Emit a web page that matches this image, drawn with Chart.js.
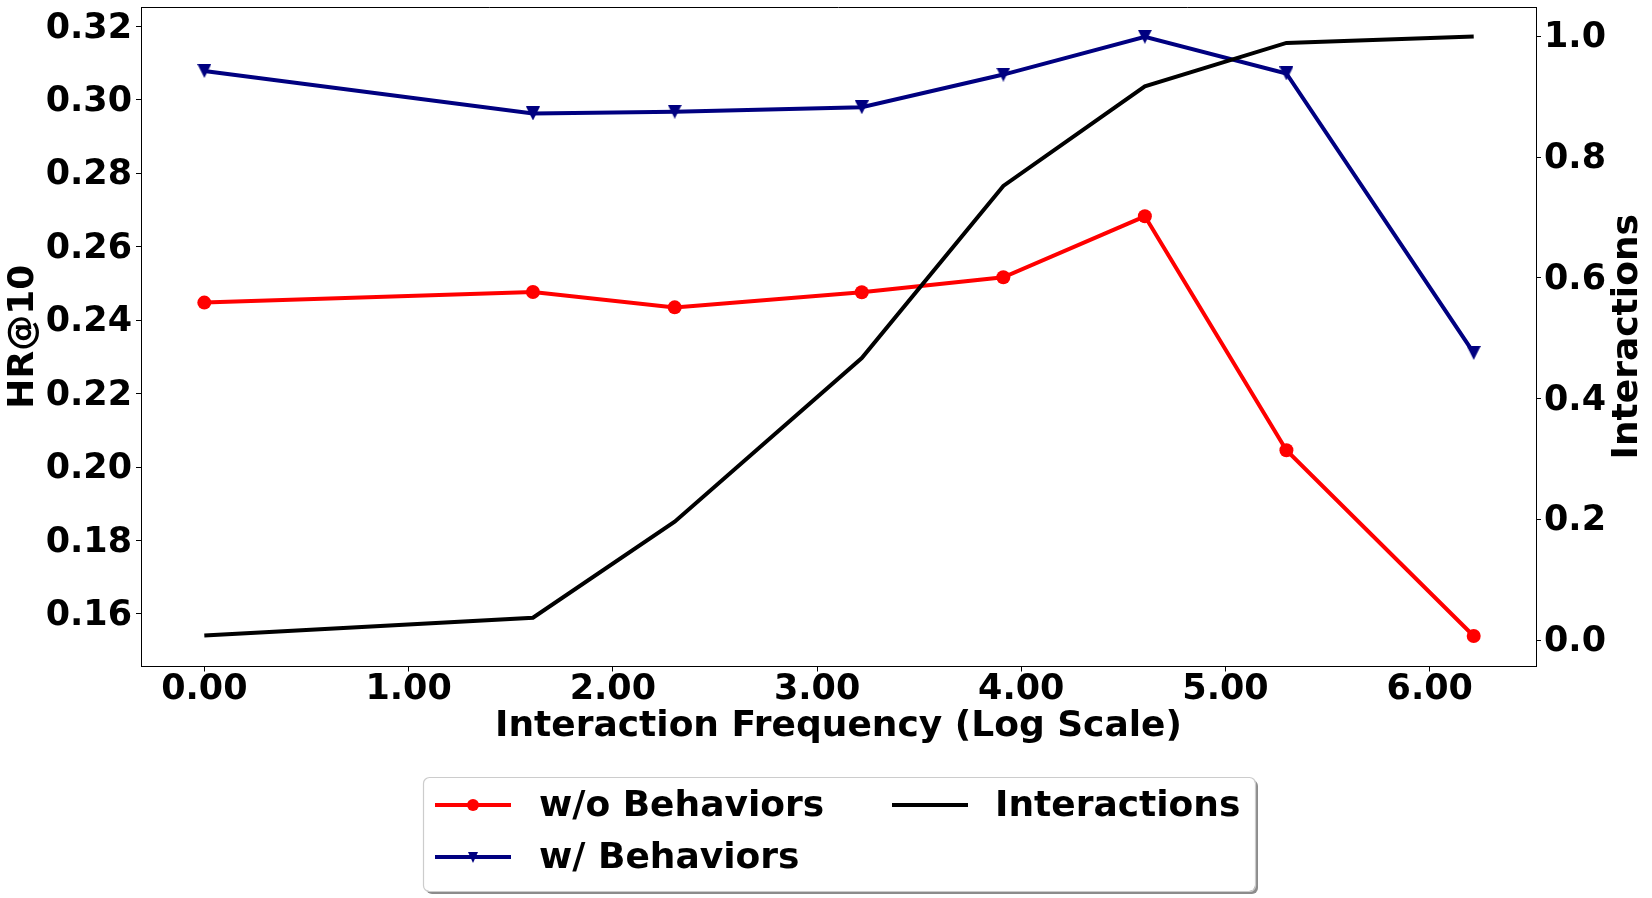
<!DOCTYPE html>
<html><head><meta charset="utf-8">
<script src="https://cdn.jsdelivr.net/npm/chart.js@4/dist/chart.umd.min.js"></script>
<style>html,body{margin:0;padding:0;background:#fff;} canvas{display:block;}</style>
</head><body>
<canvas id="c" width="1652" height="898"></canvas>
<script>
// ---- data ----
const logFreq      = [0.000, 1.609, 2.303, 3.219, 3.912, 4.605, 5.298, 6.215];
const woBehaviors  = [0.2448, 0.2477, 0.2435, 0.2476, 0.2517, 0.2683, 0.2046, 0.1540];
const wBehaviors   = [0.3079, 0.2963, 0.2968, 0.2980, 0.3069, 0.3172, 0.3072, 0.2311];
const interactions = [0.0075, 0.0370, 0.1960, 0.4672, 0.7522, 0.9172, 0.9892, 1.0000];
const seriesLabels = ['w/o Behaviors', 'w/ Behaviors', 'Interactions'];
const xTitle  = 'Interaction Frequency (Log Scale)';
const yTitle  = 'HR@10';
const y2Title = 'Interactions';

const FONT = '"DejaVu Sans", "Liberation Sans", sans-serif';
const pts = (ys) => logFreq.map((x, i) => ({x: x, y: ys[i]}));

// down-pointing triangle marker (matplotlib 'v')
function makeTriangle(size, color) {
  const c = document.createElement('canvas');
  c.width = size; c.height = size;
  const g = c.getContext('2d');
  g.fillStyle = color;
  g.beginPath(); g.moveTo(0, 0); g.lineTo(size, 0); g.lineTo(size / 2, size); g.closePath(); g.fill();
  return c;
}
const triMarker = makeTriangle(14, '#000080');

const frameAndExtras = {
  id: 'frameAndExtras',
  afterDraw(chart) {
    const ctx = chart.ctx, a = chart.chartArea;
    ctx.save();
    ctx.strokeStyle = '#000'; ctx.lineWidth = 1;
    ctx.beginPath();
    ctx.moveTo(a.left, Math.round(a.top) + 0.5);
    ctx.lineTo(a.right, Math.round(a.top) + 0.5);
    ctx.stroke();
    ctx.fillStyle = '#000';
    ctx.font = 'bold 36px ' + FONT;
    ctx.textAlign = 'center'; ctx.textBaseline = 'middle';
    ctx.translate(1628, (a.top + a.bottom) / 2);
    ctx.rotate(-Math.PI / 2);
    ctx.fillText(y2Title, 0, 0);
    ctx.restore();

    // legend
    ctx.save();
    const bx = 423, by = 777, bw = 832, bh = 114, r = 6;
    const rr = (x, y, w, h) => {
      ctx.beginPath();
      ctx.moveTo(x + r, y);
      ctx.arcTo(x + w, y, x + w, y + h, r);
      ctx.arcTo(x + w, y + h, x, y + h, r);
      ctx.arcTo(x, y + h, x, y, r);
      ctx.arcTo(x, y, x + w, y, r);
      ctx.closePath();
    };
    ctx.fillStyle = 'rgba(0,0,0,0.45)';
    rr(bx + 3, by + 3, bw, bh); ctx.fill();
    ctx.fillStyle = '#fff';
    rr(bx, by, bw, bh); ctx.fill();
    ctx.strokeStyle = '#cccccc'; ctx.lineWidth = 1.2;
    rr(bx + 0.5, by + 0.5, bw, bh); ctx.stroke();

    const slots = [
      {hx: 435, tx: 539, y: 805},
      {hx: 435, tx: 539, y: 857},
      {hx: 892, tx: 995, y: 805}
    ];
    chart.data.datasets.forEach((ds, i) => {
      const s = slots[i];
      ctx.strokeStyle = ds.borderColor; ctx.lineWidth = ds.borderWidth;
      ctx.beginPath(); ctx.moveTo(s.hx, s.y); ctx.lineTo(s.hx + 76, s.y); ctx.stroke();
      const cx = s.hx + 38;
      if (ds.pointRadius > 0) {
        ctx.fillStyle = ds.backgroundColor;
        if (ds.pointStyle === 'circle') {
          ctx.beginPath(); ctx.arc(cx, s.y, 6, 0, Math.PI * 2); ctx.fill();
        } else {
          ctx.beginPath();
          ctx.moveTo(cx - 5, s.y - 5);
          ctx.lineTo(cx + 5, s.y - 5);
          ctx.lineTo(cx, s.y + 6);
          ctx.closePath(); ctx.fill();
        }
      }
      ctx.fillStyle = '#000';
      ctx.font = 'bold 36px ' + FONT;
      ctx.textAlign = 'left'; ctx.textBaseline = 'middle';
      ctx.fillText(ds.label, s.tx, s.y + 2);
    });
    ctx.restore();
  }
};

const tickFont = {family: FONT, size: 35, weight: 'bold', lineHeight: 1};
const titleFont = {family: FONT, size: 36, weight: 'bold', lineHeight: 1};
const noPad = (s) => { s.paddingTop = 0; s.paddingBottom = 0; s.paddingLeft = 0; s.paddingRight = 0; };

new Chart(document.getElementById('c'), {
  type: 'line',
  data: {
    datasets: [
      {label: seriesLabels[0], data: pts(woBehaviors), yAxisID: 'y',
       borderColor: '#ff0000', backgroundColor: '#ff0000', borderWidth: 4,
       pointStyle: 'circle', pointRadius: 7, pointBorderWidth: 0, tension: 0, order: 2},
      {label: seriesLabels[1], data: pts(wBehaviors), yAxisID: 'y',
       borderColor: '#000080', backgroundColor: '#000080', borderWidth: 4,
       pointStyle: triMarker, pointRadius: 7, pointBorderWidth: 0, tension: 0, order: 1},
      {label: seriesLabels[2], data: pts(interactions), yAxisID: 'y1',
       borderColor: '#000000', backgroundColor: '#000000', borderWidth: 4,
       pointRadius: 0, tension: 0, order: 0}
    ]
  },
  options: {
    responsive: false,
    devicePixelRatio: 1,
    animation: false,
    layout: {padding: {top: 7, left: 0, right: 0, bottom: 0}},
    plugins: {legend: {display: false}, tooltip: {enabled: false}},
    scales: {
      x: {
        type: 'linear', position: 'bottom', min: -0.31, max: 6.52,
        afterFit: (s) => { s.height = 231.5; noPad(s); },
        ticks: {stepSize: 1, includeBounds: false, color: '#000', font: tickFont, padding: 1,
                maxRotation: 0, autoSkip: false, callback: (v) => Number(v).toFixed(2)},
        grid: {display: true, drawOnChartArea: false, drawTicks: true, tickLength: 5, tickColor: '#000', tickWidth: 1},
        border: {display: true, color: '#000', width: 1},
        title: {display: true, text: xTitle, color: '#000', font: titleFont, padding: {top: 0, bottom: 153}}
      },
      y: {
        type: 'linear', position: 'left', min: 0.1457, max: 0.3253,
        afterFit: (s) => { s.width = 141; noPad(s); },
        ticks: {stepSize: 0.02, includeBounds: false, color: '#000', font: tickFont, padding: 4, labelOffset: 2,
                autoSkip: false, callback: (v) => Number(v).toFixed(2)},
        grid: {display: true, drawOnChartArea: false, drawTicks: true, tickLength: 5, tickColor: '#000', tickWidth: 1},
        border: {display: true, color: '#000', width: 1},
        title: {display: true, text: yTitle, color: '#000', font: titleFont, padding: {top: 6, bottom: 0}}
      },
      y1: {
        type: 'linear', position: 'right', min: -0.0439, max: 1.0487,
        afterFit: (s) => { s.width = 116; noPad(s); },
        ticks: {stepSize: 0.2, includeBounds: false, color: '#000', font: tickFont, padding: 3, labelOffset: 2,
                autoSkip: false, callback: (v) => Number(v).toFixed(1)},
        grid: {display: true, drawOnChartArea: false, drawTicks: true, tickLength: 5, tickColor: '#000', tickWidth: 1},
        border: {display: true, color: '#000', width: 1}
      }
    }
  },
  plugins: [frameAndExtras]
});
</script>
</body></html>
